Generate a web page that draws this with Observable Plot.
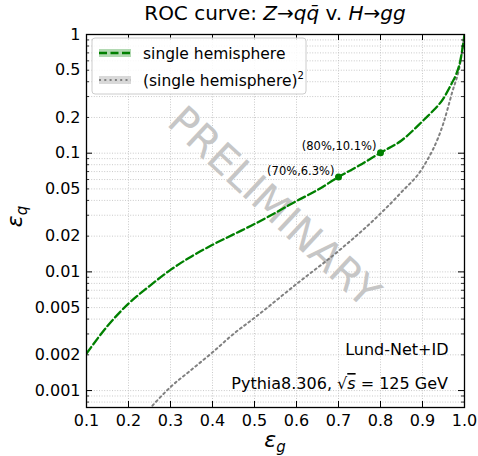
<!DOCTYPE html>
<html><head><meta charset="utf-8">
<script src="https://cdn.jsdelivr.net/npm/d3@7"></script>
<script src="https://cdn.jsdelivr.net/npm/@observablehq/plot@0.6"></script>
<style>body{margin:0;background:#fff}</style>
</head><body><div id="chart"></div>
<script>
// single hemisphere ROC: gluon efficiency vs quark efficiency
const effG = [0.1, 0.15, 0.2, 0.25, 0.3, 0.35, 0.4, 0.45, 0.5, 0.55, 0.6, 0.65, 0.7, 0.75, 0.8, 0.85, 0.9, 0.92, 0.95, 0.97, 0.98, 0.99, 1.0];
const effQ = [0.00205, 0.0035, 0.0054, 0.0076, 0.0104, 0.0135, 0.0169, 0.0207, 0.0253, 0.0315, 0.0395, 0.049, 0.063, 0.079, 0.101, 0.128, 0.186, 0.218, 0.29, 0.39, 0.46, 0.6, 1.0];
// (single hemisphere)^2
const sqG = [0.24, 0.3, 0.35, 0.4, 0.45, 0.5, 0.6, 0.7, 0.8, 0.85, 0.9, 0.95, 0.97, 0.99, 1.0];
const sqQ = [0.00064, 0.00107, 0.0015, 0.0021, 0.003, 0.0041, 0.0079, 0.015, 0.031, 0.047, 0.075, 0.18, 0.32, 0.58, 1.0];
// working points
const wpG = [0.7, 0.8];
const wpQ = [0.063, 0.101];
const wpLabels = ["(70%,6.3%)", "(80%,10.1%)"];
// ticks
const xTicks = [0.1, 0.2, 0.3, 0.4, 0.5, 0.6, 0.7, 0.8, 0.9, 1.0];
const yTickLabels = [1, 0.5, 0.2, 0.1, 0.05, 0.02, 0.01, 0.005, 0.002, 0.001];
const yMajor = [1, 0.1, 0.01, 0.001];
const yMinor = [0.0008, 0.0009, 0.002, 0.003, 0.004, 0.005, 0.006, 0.007, 0.008, 0.009,
  0.02, 0.03, 0.04, 0.05, 0.06, 0.07, 0.08, 0.09, 0.2, 0.3, 0.4, 0.5, 0.6, 0.7, 0.8, 0.9];
const yAll = yMajor.concat(yMinor);

const W = 478, H = 456, ML = 86, MR = 14, MT = 34, MB = 49;
const green = "#008000", grey = "#808080";

const single = effG.map((g, i) => ({g, q: effQ[i]}));
const squared = sqG.map((g, i) => ({g, q: sqQ[i]}));
const wps = wpG.map((g, i) => ({g, q: wpQ[i], label: wpLabels[i]}));
const X0 = 0.1, X1 = 1.0, Y0 = 0.00072, Y1 = 1;

const plot = Plot.plot({
  width: W, height: H,
  marginLeft: ML, marginRight: MR, marginTop: MT, marginBottom: MB,
  style: {fontFamily: "DejaVu Sans, sans-serif", fontSize: "16px", background: "#fff", color: "#000"},
  x: {type: "linear", domain: [X0, X1]},
  y: {type: "log", domain: [Y0, Y1], axis: null},
  marks: [
    Plot.gridX(xTicks, {stroke: "#bdbdbd", strokeOpacity: 1, strokeWidth: 0.8, strokeDasharray: "1,1.6"}),
    Plot.gridY(yAll, {stroke: "#bdbdbd", strokeOpacity: 1, strokeWidth: 0.8, strokeDasharray: "1,1.6"}),
    Plot.text(["PRELIMINARY"], {frameAnchor: "top-left", dx: 284 - ML, dy: 195 - MT, rotate: 43,
      fontSize: 41, fill: "#c6c6c6", textAnchor: "middle"}),
    Plot.line(squared, {x: "g", y: "q", stroke: grey, strokeWidth: 2, strokeDasharray: "2,3.3", curve: "monotone-x", clip: true}),
    Plot.line(single, {x: "g", y: "q", stroke: green, strokeWidth: 2.3, strokeDasharray: "8,3.5", curve: "monotone-x", clip: true}),
    Plot.dot(wps, {x: "g", y: "q", r: 3.5, fill: green}),
    Plot.text(wps, {x: "g", y: "q", text: "label", textAnchor: "end", dx: -4, dy: -6, fontSize: 11.5, fill: "#000"}),
    // inward ticks on all four sides
    Plot.ruleX(xTicks, {x: d => d, y1: Y0, y2: Y0, insetTop: -6, stroke: "#000", strokeWidth: 1}),
    Plot.ruleX(xTicks, {x: d => d, y1: Y1, y2: Y1, insetBottom: -6, stroke: "#000", strokeWidth: 1}),
    Plot.ruleY(yMajor, {y: d => d, x1: X0, x2: X0, insetRight: -6, stroke: "#000", strokeWidth: 1}),
    Plot.ruleY(yMinor, {y: d => d, x1: X0, x2: X0, insetRight: -3, stroke: "#000", strokeWidth: 0.8}),
    Plot.ruleY(yMajor, {y: d => d, x1: X1, x2: X1, insetLeft: -6, stroke: "#000", strokeWidth: 1}),
    Plot.ruleY(yMinor, {y: d => d, x1: X1, x2: X1, insetLeft: -3, stroke: "#000", strokeWidth: 0.8}),
    Plot.axisX(xTicks, {tickSize: 0, tickPadding: 7, tickFormat: d => d.toFixed(1), fontSize: 16, label: null}),
    Plot.text(yTickLabels, {y: d => d, frameAnchor: "left", textAnchor: "end", dx: -6, text: d => String(d), fontSize: 16, fill: "#000"}),
    Plot.text(["Lund-Net+ID"], {frameAnchor: "bottom-right", dx: -16, dy: -(407 - 354), textAnchor: "end", fontSize: 16, fill: "#000"}),
    Plot.frame({stroke: "#000", strokeWidth: 1.3})
  ]
});

const svg = d3.select(plot);
const cx = (ML + (W - MR)) / 2;
// title
const t = svg.append("text").attr("x", cx).attr("y", 20).attr("text-anchor", "middle").attr("font-size", 20).attr("fill", "#000");
t.append("tspan").text("ROC curve: ");
t.append("tspan").attr("font-style", "italic").text("Z");
t.append("tspan").text("\u2192");
t.append("tspan").attr("font-style", "italic").text("qq\u0304");
t.append("tspan").text(" v. ");
t.append("tspan").attr("font-style", "italic").text("H");
t.append("tspan").text("\u2192");
t.append("tspan").attr("font-style", "italic").text("gg");

// x label
const xl = svg.append("text").attr("x", cx).attr("y", 447).attr("text-anchor", "middle").attr("font-size", 22).attr("fill", "#000");
xl.append("tspan").attr("font-style", "italic").text("\u03b5");
xl.append("tspan").attr("font-style", "italic").attr("font-size", 15).attr("dy", 5).text("g");
// y label
const yl = svg.append("text").attr("transform", `translate(22,${(MT + H - MB) / 2 - 4}) rotate(-90)`).attr("text-anchor", "middle").attr("font-size", 22).attr("fill", "#000");
yl.append("tspan").attr("font-style", "italic").text("\u03b5");
yl.append("tspan").attr("font-style", "italic").attr("font-size", 15).attr("dy", 5).text("q");

// Pythia text
const pt = svg.append("text").attr("x", W - MR - 16).attr("y", 389).attr("text-anchor", "end").attr("font-size", 16).attr("fill", "#000");
pt.append("tspan").text("Pythia8.306, \u221a");
pt.append("tspan").attr("font-style", "italic").attr("text-decoration", "overline").text("s");
pt.append("tspan").text(" = 125 GeV");

// legend
const lg = svg.append("g");
lg.append("rect").attr("x", 92).attr("y", 38).attr("width", 214).attr("height", 56).attr("rx", 3)
  .attr("fill", "#fff").attr("fill-opacity", 0.85).attr("stroke", "#cccccc");
const rows = [
  {y: 53, color: green, dash: "8,3.5", w: 2.3, label: "single hemisphere", sup: null},
  {y: 80, color: grey, dash: "2,3.3", w: 2, label: "(single hemisphere)", sup: "2"}
];
rows.forEach(r => {
  lg.append("rect").attr("x", 99).attr("y", r.y - 4).attr("width", 32).attr("height", 8).attr("fill", r.color).attr("fill-opacity", 0.3);
  lg.append("line").attr("x1", 99).attr("x2", 131).attr("y1", r.y).attr("y2", r.y)
    .attr("stroke", r.color).attr("stroke-width", r.w).attr("stroke-dasharray", r.dash);
  const tx = lg.append("text").attr("x", 143).attr("y", r.y + 5.5).attr("text-anchor", "start").attr("font-size", 15.5).attr("fill", "#000");
  tx.append("tspan").text(r.label);
  if (r.sup) tx.append("tspan").attr("font-size", 10).attr("dy", -7).text(r.sup);
});

document.getElementById("chart").appendChild(plot);
</script>
</body></html>
